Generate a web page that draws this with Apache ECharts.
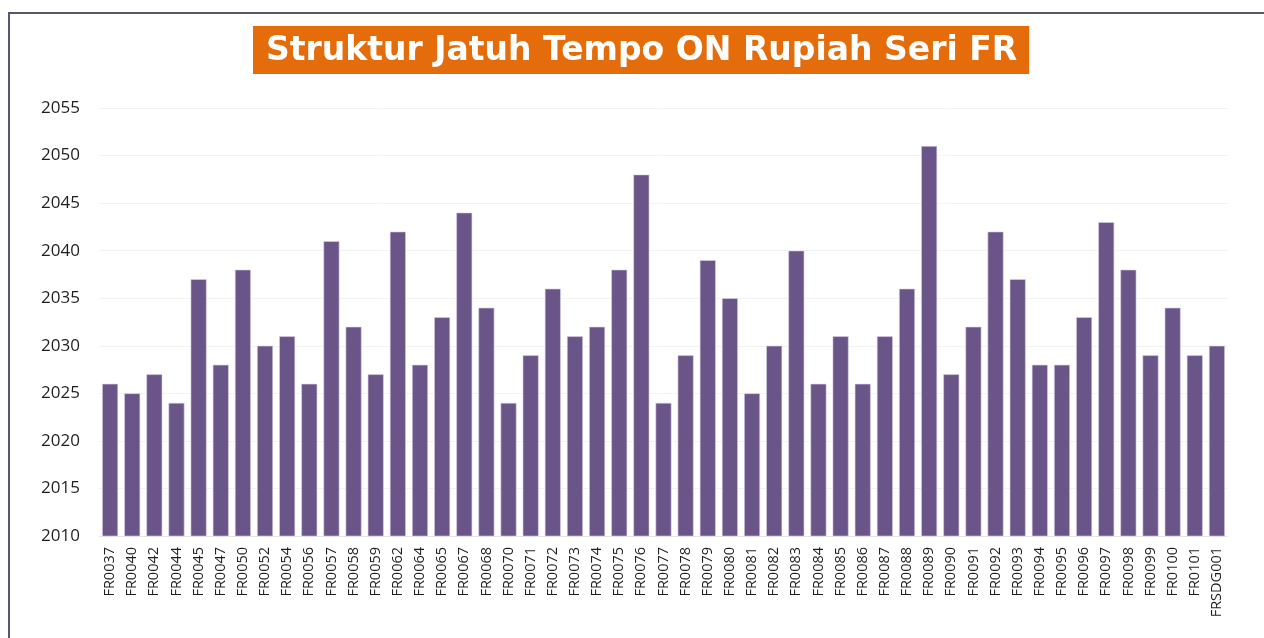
<!DOCTYPE html>
<html>
<head>
<meta charset="utf-8">
<script src="https://cdn.jsdelivr.net/npm/echarts@6/dist/echarts.min.js"></script>
<style>
  html, body { margin: 0; padding: 0; background: #fff; }
  #chart { width: 1264px; height: 638px; }
</style>
</head>
<body>
<div id="chart"></div>
<script>
// series codes (x axis)
const seriesCodes = [
  'FR0037', 'FR0040', 'FR0042', 'FR0044', 'FR0045', 'FR0047', 'FR0050', 'FR0052', 'FR0054', 'FR0056',
  'FR0057', 'FR0058', 'FR0059', 'FR0062', 'FR0064', 'FR0065', 'FR0067', 'FR0068', 'FR0070', 'FR0071',
  'FR0072', 'FR0073', 'FR0074', 'FR0075', 'FR0076', 'FR0077', 'FR0078', 'FR0079', 'FR0080', 'FR0081',
  'FR0082', 'FR0083', 'FR0084', 'FR0085', 'FR0086', 'FR0087', 'FR0088', 'FR0089', 'FR0090', 'FR0091',
  'FR0092', 'FR0093', 'FR0094', 'FR0095', 'FR0096', 'FR0097', 'FR0098', 'FR0099', 'FR0100', 'FR0101',
  'FRSDG001'
];

// maturity year of each series
const maturityYears = [
  2026, 2025, 2027, 2024, 2037, 2028, 2038, 2030, 2031, 2026,
  2041, 2032, 2027, 2042, 2028, 2033, 2044, 2034, 2024, 2029,
  2036, 2031, 2032, 2038, 2048, 2024, 2029, 2039, 2035, 2025,
  2030, 2040, 2026, 2031, 2026, 2031, 2036, 2051, 2027, 2032,
  2042, 2037, 2028, 2028, 2033, 2043, 2038, 2029, 2034, 2029,
  2030
];

const yMin = 2010;
const yMax = 2055;
const yStep = 5;

const chart = echarts.init(document.getElementById('chart'), null, { renderer: 'canvas' });

const option = {
  animation: false,
  backgroundColor: '#ffffff',
  title: {
    text: 'Struktur Jatuh Tempo ON Rupiah Seri FR',
    left: 253,
    top: 26,
    padding: [5, 12, 3, 13],
    backgroundColor: '#e46c0a',
    textStyle: {
      color: '#ffffff',
      fontFamily: 'DejaVu Sans',
      fontWeight: 'bold',
      fontSize: 33,
      lineHeight: 40
    }
  },
  graphic: [
    // frame lines of the surrounding box
    {
      type: 'line',
      shape: { x1: 8, y1: 13, x2: 1264, y2: 13 },
      style: { stroke: '#5e5276', lineWidth: 2 }
    },
    {
      type: 'line',
      shape: { x1: 9, y1: 12, x2: 9, y2: 638 },
      style: { stroke: '#5e5276', lineWidth: 2 }
    }
  ],
  grid: {
    left: 99,
    right: 36,
    top: 108,
    bottom: 102
  },
  xAxis: {
    type: 'category',
    data: seriesCodes,
    axisTick: { show: false },
    axisLine: { show: true, lineStyle: { color: '#e6e6e6' } },
    axisLabel: {
      rotate: 90,
      interval: 0,
      margin: 11,
      color: '#1f1f1f',
      fontFamily: 'Open Sans',
      fontSize: 14.5
    }
  },
  yAxis: {
    type: 'value',
    min: yMin,
    max: yMax,
    interval: yStep,
    axisLine: { show: false },
    axisTick: { show: false },
    splitLine: { lineStyle: { color: '#f3f3f3' } },
    axisLabel: {
      margin: 19,
      color: '#1f1f1f',
      fontFamily: 'Open Sans',
      fontSize: 17,
      formatter: (v) => String(v)
    }
  },
  series: [{
    type: 'bar',
    data: maturityYears,
    barCategoryGap: '28%',
    itemStyle: {
      color: '#6a5589',
      borderColor: '#d9d0e4',
      borderWidth: 0.6
    }
  }]
};

chart.setOption(option);
window.addEventListener('resize', chart.resize);
</script>
</body>
</html>
